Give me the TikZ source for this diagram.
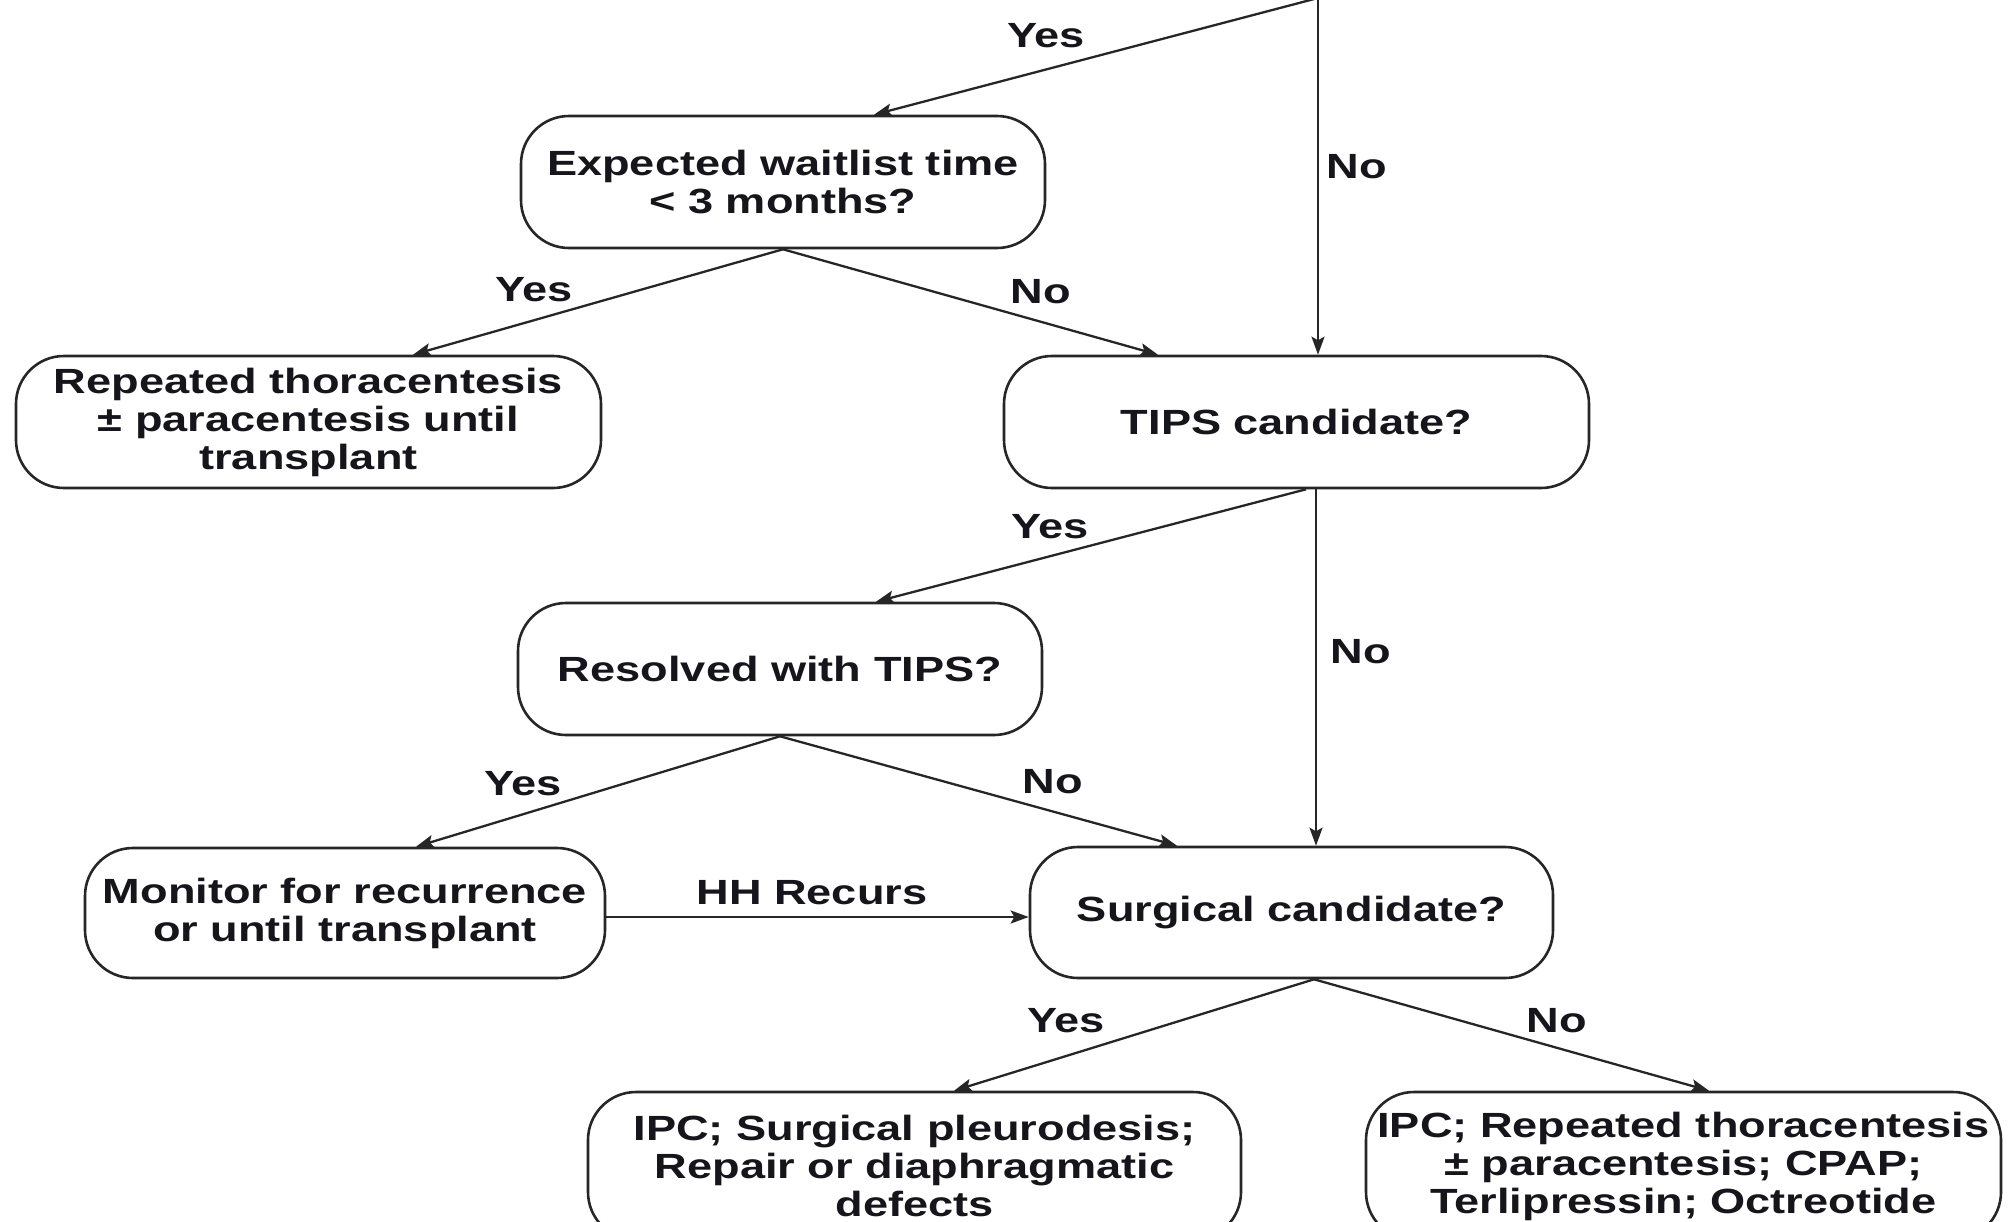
\documentclass[tikz,border=0pt]{standalone}
\usepackage{fontspec}
\setmainfont{Liberation Sans}[FakeStretch=1.29]
\usetikzlibrary{arrows.meta}
\definecolor{ink}{HTML}{15151B}
\definecolor{edgec}{HTML}{262626}
\begin{document}
\begin{tikzpicture}[x=0.5pt,y=-0.5pt,
  box/.style={draw=edgec, line width=1.3pt, rounded corners=24pt, inner sep=0pt, align=center, text=ink, font=\bfseries\fontsize{17.5}{19}\selectfont},
  lab/.style={inner sep=0pt, text=ink, font=\bfseries\fontsize{17.5}{19}\selectfont},
  arr/.style={draw=edgec, line width=1.15pt, -{Stealth[length=9pt,width=6.5pt,inset=1.8pt]}}]
\useasboundingbox (0,0) rectangle (2013,1221);
% boxes
\node[box, minimum width=262pt, minimum height=66pt] (exp) at (783,182) {Expected waitlist time\\< 3 months?};
\node[box, minimum width=292.5pt, minimum height=66pt] (rep) at (308.5,422) {Repeated thoracentesis\\± paracentesis until\\transplant};
\node[box, minimum width=292.5pt, minimum height=66pt] (tips) at (1296.5,422) {TIPS candidate?};
\node[box, minimum width=262pt, minimum height=66pt] (res) at (780,669) {Resolved with TIPS?};
\node[box, minimum width=260pt, minimum height=65pt] (mon) at (345,913) {Monitor for recurrence\\or until transplant};
\node[box, minimum width=261.5pt, minimum height=65.5pt] (sur) at (1291.5,912.5) {Surgical candidate?};
\node[box, minimum width=326.5pt, minimum height=74pt] (bl) at (914.5,1166) {IPC; Surgical pleurodesis;\\Repair or diaphragmatic\\defects};
\node[box, minimum width=317.5pt, minimum height=74pt] (br) at (1683.5,1166) {IPC; Repeated thoracentesis\\± paracentesis; CPAP;\\Terlipressin; Octreotide};
% connectors
\coordinate (src) at (1318,-2);
\draw[arr] (src) -- ([xshift=45.5pt]exp.north);
\draw[arr] (src) -- ([xshift=10.75pt]tips.north);
\draw[arr] (exp.south) -- ([xshift=52.25pt]rep.north);
\draw[arr] (exp.south) -- ([xshift=-69.25pt]tips.north);
\draw[arr] ([xshift=4.75pt]tips.south) -- ([xshift=48pt]res.north);
\draw[arr] ([xshift=9.75pt]tips.south) -- ([xshift=12.25pt]sur.north);
\draw[arr] (res.south) -- ([xshift=35.5pt]mon.north);
\draw[arr] (res.south) -- ([xshift=-57.25pt]sur.north);
\draw[arr] ([yshift=-2pt]mon.east) coordinate (m1) -- (m1 -| sur.west);
\draw[arr] ([xshift=11.25pt]sur.south) -- ([xshift=19.75pt]bl.north);
\draw[arr] ([xshift=11.25pt]sur.south) -- ([xshift=12.75pt]br.north);
% labels
\node[lab] (lY1) at (1046,36) {Yes};
\node[lab] (lN1) at (1357,167) {No};
\node[lab] (lY2) at (534,290) {Yes};
\node[lab] (lN2) at (1041,292) {No};
\node[lab] (lY3) at (1050,527) {Yes};
\node[lab] (lN3) at (1361,652) {No};
\node[lab] (lY4) at (523,784) {Yes};
\node[lab] (lN4) at (1053,782) {No};
\node[lab] (lHH) at (812,893) {HH Recurs};
\node[lab] (lY5) at (1066,1021) {Yes};
\node[lab] (lN5) at (1557,1021) {No};
\end{tikzpicture}
\end{document}
